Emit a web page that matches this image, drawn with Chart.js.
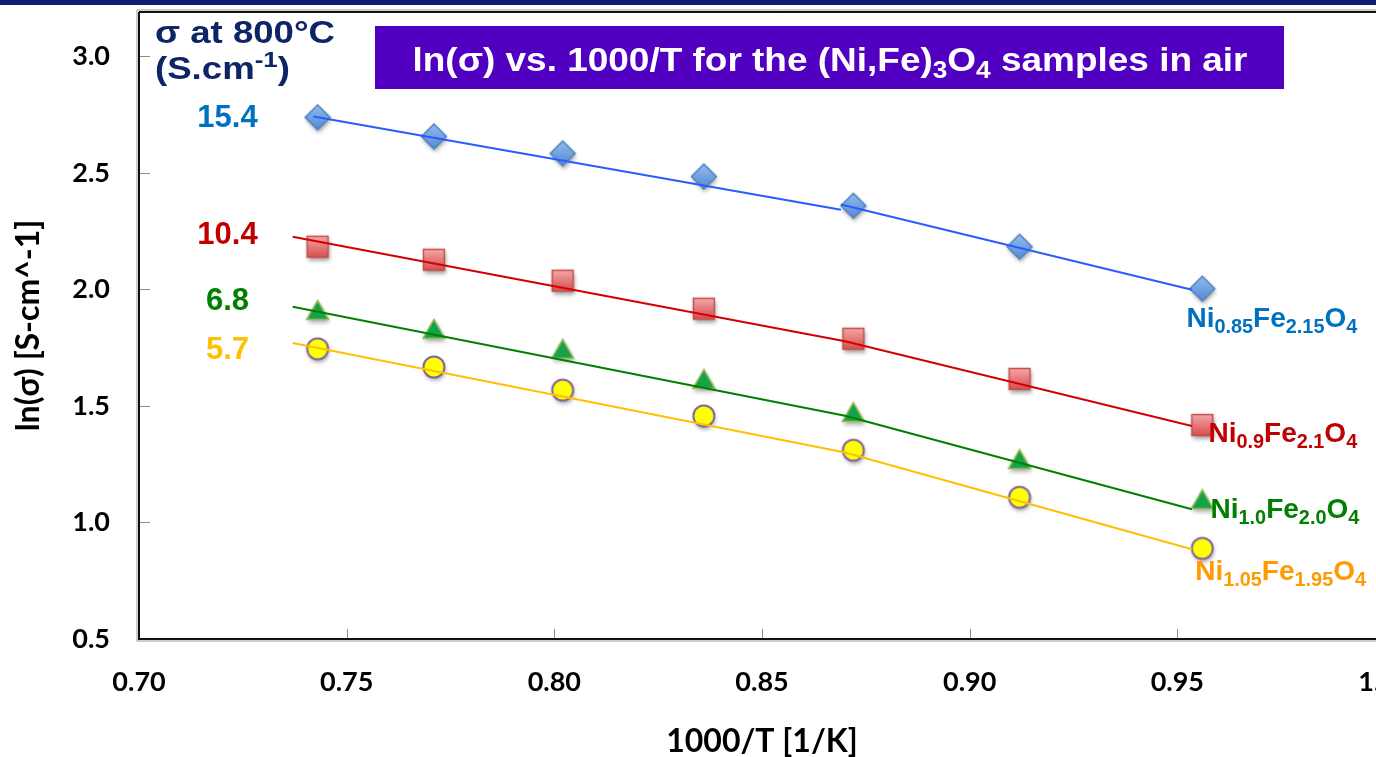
<!DOCTYPE html>
<html lang="en">
<head>
<meta charset="UTF-8">
<title>ln(σ) vs. 1000/T for the (Ni,Fe)3O4 samples in air</title>
<script src="https://cdn.jsdelivr.net/npm/chart.js"></script>
<style>
  html, body { margin: 0; padding: 0; background: #fff; overflow: hidden; }
  #wrap { position: relative; width: 1420px; height: 757px; }
  #topbar { position: absolute; left: 0; top: 0; width: 1376px; height: 5px; background: #0b1f6e; }
</style>
</head>
<body>
<div id="wrap">
  <canvas id="chart"></canvas>
  <div id="topbar"></div>
</div>
<script>
// measured points, 1000/T [1/K]
const invT = [0.743, 0.771, 0.802, 0.836, 0.872, 0.912, 0.956];
// ln(sigma) per composition
const lnNi085 = [2.738, 2.656, 2.583, 2.484, 2.359, 2.183, 2.003];
const lnNi090 = [2.183, 2.127, 2.037, 1.917, 1.788, 1.616, 1.418];
const lnNi100 = [1.912, 1.831, 1.745, 1.616, 1.474, 1.272, 1.100];
const lnNi105 = [1.745, 1.667, 1.568, 1.457, 1.310, 1.108, 0.889];

// two-segment trend lines (start, break, end)
const fitX = [0.737, 0.870, 0.9535];
const fitNi085X = [0.742, 0.869, 0.869, 0.9535];
const fitNi085 = [2.742, 2.342, 2.364, 1.998];
const fitNi090 = [2.226, 1.777, 1.414];
const fitNi100 = [1.925, 1.458, 1.057];
const fitNi105 = [1.770, 1.300, 0.885];

// sigma at 800 C (S/cm)
const sigma800 = ['15.4', '10.4', '6.8', '5.7'];

const xTicks = { min: 0.70, max: 1.00, step: 0.05 };
const yTicks = { min: 0.5, max: 3.19, step: 0.5 };

const pts = (xs, ys) => ys.map((y, i) => ({ x: xs[i], y }));

function marker(shape) {
  const c = document.createElement('canvas');
  c.width = 36; c.height = 36;
  const g = c.getContext('2d');
  const path = () => {
    g.beginPath();
    if (shape === 'diamond') {
      g.moveTo(18, 5.5); g.lineTo(30.5, 18); g.lineTo(18, 30.5); g.lineTo(5.5, 18); g.closePath();
    } else if (shape === 'square') {
      g.rect(7.5, 7.5, 21, 21);
    } else if (shape === 'triangle') {
      g.moveTo(18, 8.5); g.lineTo(29, 27.5); g.lineTo(7, 27.5); g.closePath();
    } else {
      g.arc(18, 18, 10.5, 0, Math.PI * 2);
    }
  };
  let fill, stroke, lw = 1.5;
  if (shape === 'diamond') {
    fill = g.createLinearGradient(0, 5, 0, 31);
    fill.addColorStop(0, '#95bdee'); fill.addColorStop(1, '#5288d2');
    stroke = '#4f81bd';
  } else if (shape === 'square') {
    fill = g.createLinearGradient(0, 7, 0, 29);
    fill.addColorStop(0, '#f7a8a8'); fill.addColorStop(1, '#d64c4c');
    stroke = '#c0504d';
  } else if (shape === 'triangle') {
    fill = '#14a24a'; stroke = '#9bbb59';
  } else {
    fill = '#ffff00'; stroke = '#8064a2'; lw = 2;
  }
  g.save();
  g.shadowColor = 'rgba(0,0,0,0.35)';
  g.shadowBlur = 4; g.shadowOffsetX = 1; g.shadowOffsetY = 3;
  path(); g.fillStyle = fill; g.fill();
  g.restore();
  path(); g.fillStyle = fill; g.fill();
  g.lineWidth = lw; g.strokeStyle = stroke; g.stroke();
  return c;
}

const labelFont = (s) => `bold ${s}px "Liberation Sans", Arial, sans-serif`;

function drawRich(ctx, runs, x, y, size, color, align, fitWidth) {
  let w = 0;
  runs.forEach(r => {
    r.size = (r.sub || r.sup) ? size * 0.71 : size;
    ctx.font = labelFont(r.size);
    r.w = ctx.measureText(r.t).width;
    w += r.w;
  });
  const sx = fitWidth ? fitWidth / w : 1;
  const tw = w * sx;
  const x0 = align === 'right' ? x - tw : align === 'center' ? x - tw / 2 : x;
  ctx.save();
  ctx.translate(x0, y);
  ctx.scale(sx, 1);
  ctx.fillStyle = color;
  ctx.textAlign = 'left';
  ctx.textBaseline = 'alphabetic';
  let cx = 0;
  runs.forEach(r => {
    ctx.font = labelFont(r.size);
    const dy = r.sub ? size * 0.22 : r.sup ? -size * 0.38 : 0;
    ctx.fillText(r.t, cx, dy);
    cx += r.w;
  });
  ctx.restore();
}

const valueNotes = [
  { text: sigma800[0], x: 0.7213, y: 2.733, color: '#0070c0' },
  { text: sigma800[1], x: 0.7213, y: 2.230, color: '#c00000' },
  { text: sigma800[2], x: 0.7213, y: 1.947, color: '#008000' },
  { text: sigma800[3], x: 0.7213, y: 1.740, color: '#ffc000' }
];
const seriesNotes = [
  { runs: [{ t: 'Ni' }, { t: '0.85', sub: true }, { t: 'Fe' }, { t: '2.15', sub: true }, { t: 'O' }, { t: '4', sub: true }], x: 0.9522, y: 1.839, color: '#0070c0' },
  { runs: [{ t: 'Ni' }, { t: '0.9', sub: true }, { t: 'Fe' }, { t: '2.1', sub: true }, { t: 'O' }, { t: '4', sub: true }], x: 0.9575, y: 1.345, color: '#c00000' },
  { runs: [{ t: 'Ni' }, { t: '1.0', sub: true }, { t: 'Fe' }, { t: '2.0', sub: true }, { t: 'O' }, { t: '4', sub: true }], x: 0.9580, y: 1.018, color: '#008000' },
  { runs: [{ t: 'Ni' }, { t: '1.05', sub: true }, { t: 'Fe' }, { t: '1.95', sub: true }, { t: 'O' }, { t: '4', sub: true }], x: 0.9543, y: 0.752, color: '#ff9a00' }
];

const decorations = {
  id: 'decorations',
  beforeDatasetsDraw(chart) {
    const { ctx, chartArea: a, scales: { x, y } } = chart;
    ctx.save();
    // plot frame
    ctx.strokeStyle = '#9a9a9a'; ctx.lineWidth = 1;
    ctx.beginPath();
    ctx.moveTo(a.left - 2, a.top - 2); ctx.lineTo(a.left - 2, a.bottom + 2); ctx.lineTo(chart.width, a.bottom + 2);
    ctx.moveTo(a.left - 2, a.top - 2); ctx.lineTo(chart.width, a.top - 2);
    ctx.stroke();
    ctx.strokeStyle = '#111'; ctx.lineWidth = 2;
    ctx.beginPath();
    ctx.moveTo(a.left, a.top); ctx.lineTo(a.left, a.bottom); ctx.lineTo(chart.width, a.bottom);
    ctx.moveTo(a.left, a.top); ctx.lineTo(chart.width, a.top);
    ctx.stroke();
    // inside tick marks
    ctx.strokeStyle = '#8c8c8c'; ctx.lineWidth = 1;
    ctx.beginPath();
    x.ticks.forEach(t => {
      const px = Math.round(x.getPixelForValue(t.value)) + 0.5;
      if (px > a.left + 2) { ctx.moveTo(px, a.bottom - 1); ctx.lineTo(px, a.bottom - 10); }
    });
    y.ticks.forEach(t => {
      const py = Math.round(y.getPixelForValue(t.value)) + 0.5;
      if (py < a.bottom - 2) { ctx.moveTo(a.left + 1, py); ctx.lineTo(a.left + 11, py); }
    });
    ctx.stroke();
    ctx.restore();
  },
  afterDraw(chart) {
    const { ctx, scales: { x, y } } = chart;
    ctx.save();
    // sigma at 800 C values
    ctx.textAlign = 'center';
    ctx.textBaseline = 'middle';
    ctx.font = labelFont(31);
    valueNotes.forEach(n => {
      ctx.fillStyle = n.color;
      ctx.fillText(n.text, x.getPixelForValue(n.x), y.getPixelForValue(n.y));
    });
    // composition labels
    seriesNotes.forEach(n => {
      drawRich(ctx, n.runs, x.getPixelForValue(n.x), y.getPixelForValue(n.y), 28, n.color, 'left');
    });
    // header of value column
    drawRich(ctx, [{ t: 'σ at 800°C' }], 155, 43, 32, '#0d2565', 'left', 180);
    drawRich(ctx, [{ t: '(S.cm' }, { t: '-1', sup: true }, { t: ')' }], 155, 79, 32, '#0d2565', 'left', 135);
    // title box
    ctx.fillStyle = '#5100c2';
    ctx.fillRect(375, 26, 909, 63);
    drawRich(ctx, [
      { t: 'ln(σ) vs. 1000/T for the (Ni,Fe)' }, { t: '3', sub: true },
      { t: 'O' }, { t: '4', sub: true }, { t: ' samples in air' }
    ], 830, 71, 33, '#ffffff', 'center', 835);
    ctx.restore();
  }
};

const diamond = marker('diamond');
const square = marker('square');
const triangle = marker('triangle');
const circle = marker('circle');

const markerSet = (data, img) => ({
  data: pts(invT, data), pointStyle: img, pointRadius: 10, showLine: false, order: 1
});
const fitLine = (xs, data, color) => ({
  data: pts(xs, data), showLine: true, pointRadius: 0, borderColor: color,
  borderWidth: 2, fill: false, order: 0
});

const blueFit = pts(fitNi085X, fitNi085);
blueFit.splice(2, 0, { x: 0.869, y: null });

new Chart(document.getElementById('chart'), {
  type: 'scatter',
  data: {
    datasets: [
      markerSet(lnNi085, diamond),
      markerSet(lnNi090, square),
      markerSet(lnNi100, triangle),
      markerSet(lnNi105, circle),
      { data: blueFit, showLine: true, spanGaps: false, pointRadius: 0, borderColor: '#2b5cff', borderWidth: 2, order: 0 },
      fitLine(fitX, fitNi090, '#d40000'),
      fitLine(fitX, fitNi100, '#008000'),
      fitLine(fitX, fitNi105, '#ffc000')
    ]
  },
  options: {
    responsive: true,
    maintainAspectRatio: false,
    animation: false,
    events: [],
    layout: { padding: { left: 0, right: 35, top: 12, bottom: 0 } },
    plugins: { legend: { display: false }, tooltip: { enabled: false } },
    scales: {
      x: {
        type: 'linear',
        min: xTicks.min, max: xTicks.max,
        grid: { display: false, drawTicks: false },
        border: { display: false },
        ticks: {
          stepSize: xTicks.step, padding: 27, color: '#000',
          font: { family: 'Lato', weight: 'bold', size: 27 },
          callback: v => v.toFixed(2)
        },
        title: {
          display: true, text: '1000/T [1/K]', color: '#000',
          font: { family: 'Lato', weight: 'bold', size: 32 },
          padding: { top: 0, bottom: -4 }
        },
        afterFit: s => { s.height = 118; s.paddingLeft = 0; s.paddingRight = 0; }
      },
      y: {
        type: 'linear',
        min: yTicks.min, max: yTicks.max,
        grid: { display: false, drawTicks: false },
        border: { display: false },
        ticks: {
          stepSize: yTicks.step, includeBounds: false, padding: 29, color: '#000',
          font: { family: 'Lato', weight: 'bold', size: 27 },
          callback: v => v.toFixed(1)
        },
        title: {
          display: true, text: 'ln(σ) [S-cm^-1]', color: '#000',
          font: { family: 'Lato', weight: 'bold', size: 32 },
          padding: { top: 9, bottom: 0 }
        },
        afterFit: s => { s.width = 139; s.paddingTop = 0; s.paddingBottom = 0; }
      }
    }
  },
  plugins: [decorations]
});
</script>
</body>
</html>
